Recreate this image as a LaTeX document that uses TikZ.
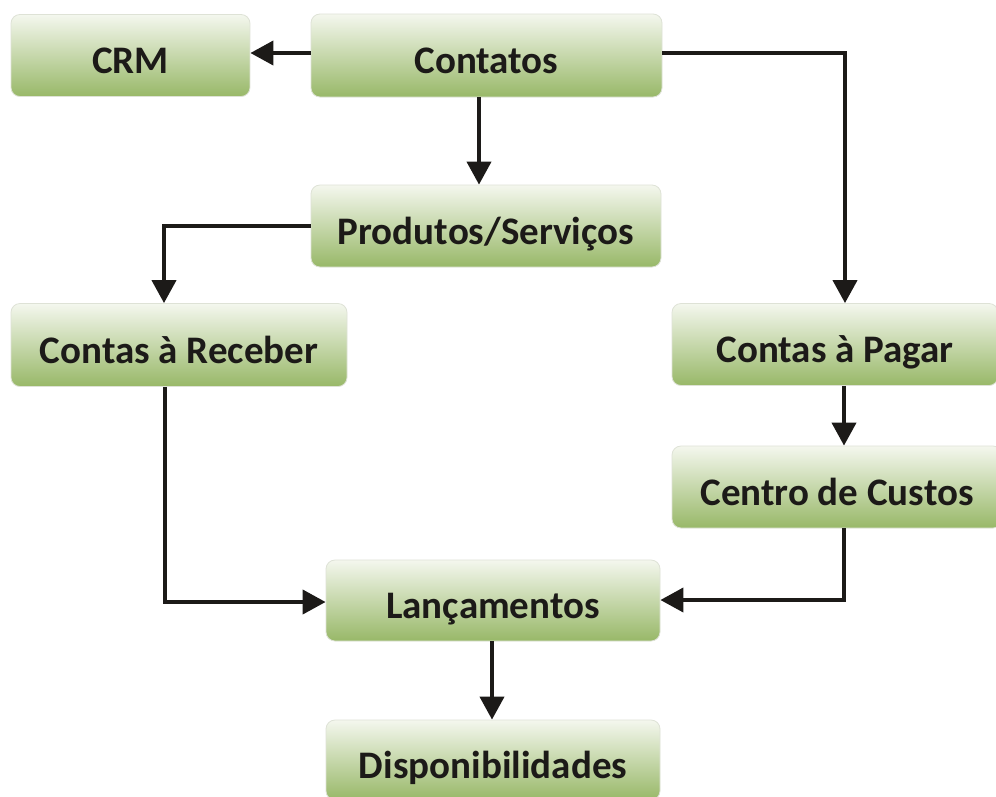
\documentclass[tikz,border=0pt]{standalone}
\usepackage{fontspec}
\setmainfont{Carlito}
\usetikzlibrary{arrows.meta}
\definecolor{gtop}{RGB}{244,247,238}
\definecolor{gbot}{RGB}{152,184,104}
\definecolor{txt}{RGB}{28,26,24}
\definecolor{edge}{RGB}{222,226,214}
\tikzset{
  box/.style={rectangle, rounded corners=9pt, draw=edge, line width=0.8pt,
    top color=gtop, bottom color=gbot, inner sep=0pt,
    text height=36pt, text depth=0pt, text=txt,
    font=\bfseries\fontsize{39}{42}\selectfont},
  arr/.style={line width=4pt, draw=txt, -{Triangle[length=23pt,width=24pt]}},
  ln/.style={line width=4pt, draw=txt}
}
\begin{document}
\begin{tikzpicture}[x=1pt,y=-1pt]
\clip (0,0) rectangle (996,796);
\fill[white] (0,0) rectangle (996,796);
\node[box, minimum width=239pt, minimum height=82pt] (crm) at (130.5,55.5) {CRM};
\node[box, minimum width=351pt, minimum height=83pt] (cont) at (486.5,55.5) {Contatos};
\node[box, minimum width=350pt, minimum height=82pt] (prod) at (486,226) {Produtos/Serviços};
\node[box, minimum width=336pt, minimum height=83pt] (rec) at (179,345) {Contas à Receber};
\node[box, minimum width=326pt, minimum height=82pt] (pag) at (835,344.5) {Contas à Pagar};
\node[box, minimum width=330pt, minimum height=82pt] (cen) at (837,487) {Centro de Custos};
\node[box, minimum width=334pt, minimum height=81pt] (lan) at (493,600.5) {Lançamentos};
\node[box, minimum width=334pt, minimum height=80pt] (disp) at (493,760) {Disponibilidades};
\coordinate (r1) at (0,53);
\coordinate (c1) at (845,53);
\coordinate (c2) at (479,0);
\coordinate (r2) at (0,226);
\coordinate (c3) at (164,226);
\coordinate (c4) at (844,0);
\coordinate (c5) at (844,600);
\coordinate (c6) at (165,602);
\coordinate (c7) at (492,0);
\draw[arr] (cont.west |- r1) -- (crm.east |- r1);
\draw[arr] (cont.south -| c2) -- (prod.north -| c2);
\draw[arr] (cont.east |- r1) -- (c1) -- (pag.north -| c1);
\draw[arr] (prod.west |- r2) -- (c3) -- (rec.north -| c3);
\draw[arr] (pag.south -| c4) -- (cen.north -| c4);
\draw[arr] (cen.south -| c4) -- (c5) -- (lan.east |- c5);
\draw[arr] (rec.south -| c6) -- (c6) -- (lan.west |- c6);
\draw[arr] (lan.south -| c7) -- (disp.north -| c7);
\end{tikzpicture}
\end{document}
